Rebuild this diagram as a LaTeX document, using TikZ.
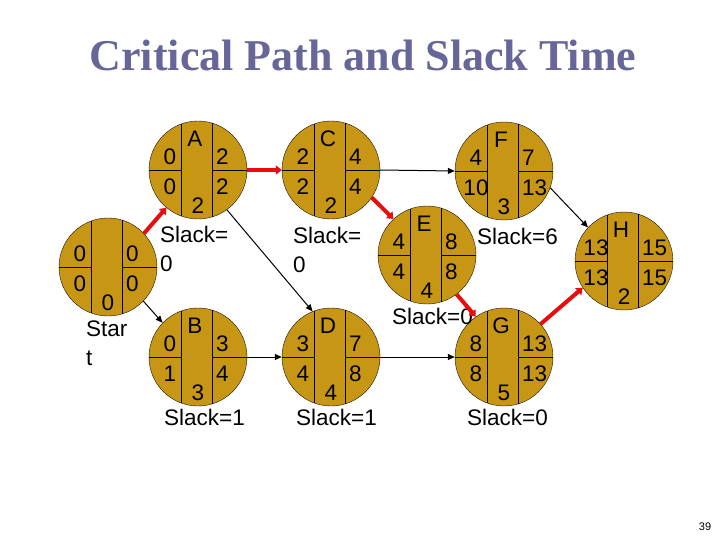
\documentclass[tikz,border=0pt]{standalone}
\usepackage{fontspec}
\setmainfont{Liberation Sans}
\newfontfamily\titlefont{Liberation Serif}
\usetikzlibrary{arrows.meta}

\definecolor{gold}{RGB}{198,150,20}
\definecolor{titleblue}{RGB}{102,102,153}
\definecolor{critred}{RGB}{232,12,12}

\tikzset{
  actcircle/.style={circle,draw=black!85!brown,fill=gold,minimum size=98pt,inner sep=0pt},
  num/.style={font=\fontsize{22.5}{24}\selectfont,inner sep=0pt},
  slacklabel/.style={font=\fontsize{22.5}{29}\selectfont,inner sep=0pt,anchor=north west,align=left},
  crit/.style={draw=critred,line width=4pt,-{Triangle[length=6pt,width=9pt]}},
  plainarrow/.style={draw=black,line width=1pt,-{Triangle[length=7pt,width=6pt]}}
}

% one activity circle: name, x, y, letter, ES, LS, EF, LF, duration
\newcommand{\activity}[9]{%
  \node[actcircle] (#1) at (#2,#3) {};
  \begin{scope}[shift={(#2,#3)}]
    \draw[line width=0.7pt] (-17,-46) -- (-17,46);
    \draw[line width=0.7pt] (14,-47) -- (14,47);
    \draw[line width=0.7pt] (-49,0) -- (-17,0);
    \draw[line width=0.7pt] (14,0) -- (49,0);
    \node[num] (#1let) at (-3,-31) {#4};
    \node[num] (#1es) at (-28,-13) {#5};
    \node[num] (#1ls) at (-28,17) {#6};
    \node[num,anchor=west] (#1ef) at (18,-13) {#7};
    \node[num,anchor=west] (#1lf) at (18,17) {#8};
    \node[num] (#1dur) at (0,36) {#9};
  \end{scope}}

\begin{document}
\begin{tikzpicture}[x=1pt,y=-1pt]
\useasboundingbox (0,0) rectangle (720,540);

% Title
\node[font=\titlefont\bfseries\fontsize{44}{48}\selectfont,text=titleblue] (title) at (363,55) {Critical Path and Slack Time};

% Activities
\activity{Start}{108}{267}{}{0}{0}{0}{0}{0}
\activity{A}{198}{170}{A}{0}{0}{2}{2}{2}
\activity{B}{198}{357}{B}{0}{1}{3}{4}{3}
\activity{C}{331}{170}{C}{2}{2}{4}{4}{2}
\activity{D}{331}{357}{D}{3}{4}{7}{8}{4}
\activity{E}{427}{255}{E}{4}{4}{8}{8}{4}
\activity{F}{504}{171}{F}{4}{10}{7}{13}{3}
\activity{G}{504}{357}{G}{8}{8}{13}{13}{5}
\activity{H}{624}{261}{H}{13}{13}{15}{15}{2}

% Slack labels
\node[slacklabel] (Startlab) at (86,321) {Star\\t};
\node[slacklabel] (Aslack) at (160,226) {Slack=\\0};
\node[slacklabel] (Bslack) at (164,409) {Slack=1};
\node[slacklabel] (Cslack) at (293,227) {Slack=\\0};
\node[slacklabel] (Dslack) at (296,409) {Slack=1};
\node[slacklabel] (Eslack) at (392,308) {Slack=0};
\node[slacklabel] (Fslack) at (477,228) {Slack=6};
\node[slacklabel] (Gslack) at (467,409) {Slack=0};

% Critical path
\draw[crit] (Start.43) -- (A.230);
\draw[crit] (A.east) -- (C.west);
\draw[crit] (C.-34) -- (E.133);
\draw[crit] (E.-53) -- (G.125);
\draw[crit] (G.42) -- (H.213);

% Other connections
\draw[plainarrow] (Start.-44) -- (B.136);
\draw[plainarrow] (A.-54) -- (D.112);
\draw[plainarrow] (B.east) -- (D.west);
\draw[plainarrow] (C.east) -- (F.west);
\draw[plainarrow] (D.east) -- (G.west);
\draw[plainarrow] (F.-20) -- (H.137);

% Page number
\node[font=\fontsize{11}{12}\selectfont] (pagenum) at (705,527) {39};
\end{tikzpicture}
\end{document}
